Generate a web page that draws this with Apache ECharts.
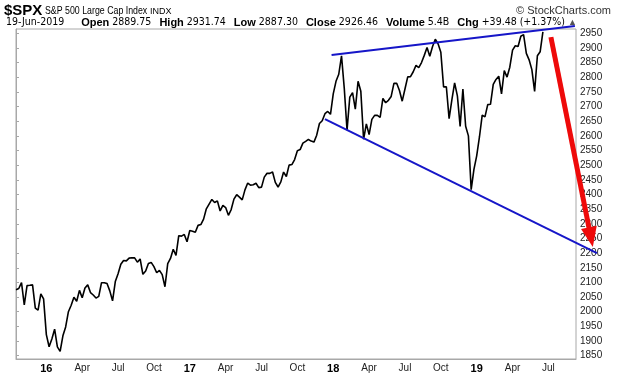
<!DOCTYPE html>
<html>
<head>
<meta charset="utf-8">
<script src="https://cdn.jsdelivr.net/npm/echarts@6/dist/echarts.min.js"></script>
<style>
  html, body { margin: 0; padding: 0; background: #fff; }
  #chart { width: 620px; height: 376px; }
</style>
</head>
<body>
<div id="chart"></div>
<script>
// weekly closes, first week ends 2015-10-23
const startWeek = '2015-10-23'
const weekCount = 204

const closes2015 = [2075.15, 2079.36, 2099.20, 2023.04, 2089.17, 2090.11, 2091.69, 2012.37, 2005.55, 2060.99, 2043.94]
const closes2016 = [1922.03, 1880.33, 1906.90, 1940.24, 1880.05, 1864.78, 1917.78, 1948.05, 1999.99, 2022.19, 2049.58, 2035.94, 2072.78,
  2047.60, 2080.73, 2091.58, 2065.30, 2057.14, 2046.61, 2052.32, 2099.06, 2099.13, 2096.07, 2071.22, 2037.41, 2102.95,
  2129.90, 2161.74, 2175.03, 2173.60, 2182.87, 2184.05, 2183.87, 2169.04, 2179.98, 2127.81, 2139.16, 2164.69, 2168.27,
  2153.74, 2132.98, 2141.16, 2126.41, 2085.18, 2164.45, 2181.90, 2213.35, 2191.95, 2259.53, 2258.07, 2263.79, 2238.83]
const closes2017 = [2276.98, 2274.64, 2271.31, 2294.69, 2297.42, 2316.10, 2351.16, 2367.34, 2383.12, 2372.60, 2378.25, 2343.98, 2362.72,
  2355.54, 2328.95, 2348.69, 2384.20, 2399.29, 2390.90, 2381.73, 2415.82, 2439.07, 2431.77, 2433.15, 2438.30, 2423.41,
  2425.18, 2459.27, 2472.54, 2472.10, 2476.83, 2441.32, 2425.55, 2443.05, 2476.55, 2461.43, 2500.23, 2502.22, 2519.36,
  2549.33, 2553.17, 2575.21, 2581.07, 2587.84, 2582.30, 2578.85, 2602.42, 2642.22, 2651.50, 2675.81, 2683.34, 2673.61]
const closes2018 = [2743.15, 2786.24, 2810.30, 2872.87, 2762.13, 2619.55, 2732.22, 2747.30, 2691.25, 2786.57, 2752.01, 2588.26, 2640.87,
  2604.47, 2656.30, 2670.14, 2669.91, 2663.42, 2727.72, 2712.97, 2721.33, 2734.62, 2779.03, 2779.42, 2754.88, 2718.37,
  2759.82, 2801.31, 2801.83, 2818.82, 2840.35, 2833.28, 2850.13, 2874.69, 2901.52, 2871.68, 2904.98, 2929.67, 2913.98,
  2885.57, 2767.13, 2767.78, 2658.69, 2723.06, 2781.01, 2736.27, 2632.56, 2760.17, 2633.08, 2599.95, 2416.62, 2485.74]
const closes2019 = [2531.94, 2596.26, 2670.71, 2664.76, 2706.53, 2707.88, 2775.60, 2792.67, 2803.69, 2743.07, 2822.48, 2800.71, 2834.40,
  2892.74, 2907.41, 2905.03, 2939.88, 2945.64, 2881.40, 2859.53, 2826.06, 2752.06, 2873.34, 2886.98, 2955.00]

const quarterLabels = [
  ['2016-01-08', '16'], ['2016-04-08', 'Apr'], ['2016-07-08', 'Jul'], ['2016-10-07', 'Oct'],
  ['2017-01-06', '17'], ['2017-04-07', 'Apr'], ['2017-07-07', 'Jul'], ['2017-10-06', 'Oct'],
  ['2018-01-05', '18'], ['2018-04-06', 'Apr'], ['2018-07-06', 'Jul'], ['2018-10-05', 'Oct'],
  ['2019-01-04', '19'], ['2019-04-05', 'Apr'], ['2019-07-05', 'Jul']
]
const yTicks = [1850, 1900, 1950, 2000, 2050, 2100, 2150, 2200, 2250, 2300, 2350, 2400, 2450, 2500,
  2550, 2600, 2650, 2700, 2750, 2800, 2850, 2900, 2950]

// drawn annotations, [week index, price]
const upperTrend = [[114.4, 2876], [202.6, 2975]]
const lowerTrend = [[112, 2657], [210.6, 2200]]
const arrowLine = [193.9, 2937, 209.1, 2221]

const closes = [].concat(closes2015, closes2016, closes2017, closes2018, closes2019)
const weeks = []
let t = Date.parse(startWeek + 'T00:00:00Z')
for (let i = 0; i < weekCount; i++) {
  weeks.push(new Date(t + i * 7 * 86400000).toISOString().slice(0, 10))
}
const labelMap = {}
quarterLabels.forEach(q => { labelMap[q[0]] = q[1] })

const FONT = '"Liberation Sans", Arial, sans-serif'
const BLUE = '#1616c8'
const RED = '#ee0a0a'

const chart = echarts.init(document.getElementById('chart'))
const option = {
  animation: false,
  backgroundColor: '#fff',
  grid: {
    left: 16,
    right: 44,
    top: 29,
    bottom: 17,
    show: true,
    borderColor: '#a8a8a8',
    borderWidth: 1
  },
  graphic: [
    { type: 'text', left: 4, top: 3, style: { text: '$SPX', font: 'bold 15px ' + FONT, fill: '#000' } },
    { type: 'text', x: 45, y: 5, scaleX: 0.8, style: { text: 'S&P 500 Large Cap Index', font: '11px ' + FONT, fill: '#000' } },
    { type: 'text', x: 150, y: 7, style: { text: 'INDX', font: '9px ' + FONT, fill: '#000' } },
    { type: 'text', right: 9, top: 5, style: { text: '© StockCharts.com', font: '11px ' + FONT, fill: '#333' } },
    {
      type: 'text',
      left: 6,
      top: 17,
      style: {
        text: '19-Jun-2019     {b|Open} 2889.75  {b|High} 2931.74  {b|Low} 2887.30  {b|Close} 2926.46  {b|Volume} 5.4B  {b|Chg} +39.48 (+1.37%) {g|▲}',
        font: '10.5px "DejaVu Sans Condensed", ' + FONT,
        fill: '#000',
        rich: {
          b: { font: 'bold 11px ' + FONT, fill: '#000', padding: [0, 0, 0, 2] },
          g: { font: '9px ' + FONT, fill: '#555' }
        }
      }
    }
  ],
  xAxis: [
    {
      type: 'category',
      data: weeks,
      boundaryGap: false,
      axisLine: { show: true, lineStyle: { color: '#a8a8a8' } },
      axisTick: { show: false },
      splitLine: { show: false },
      axisLabel: {
        interval: (idx, val) => labelMap[val] !== undefined,
        margin: 4,
        fontFamily: FONT,
        fontSize: 10,
        color: '#222',
        formatter: val => {
          const s = labelMap[val] || ''
          return /^\d+$/.test(s) ? '{y|' + s + '}' : s
        },
        rich: { y: { fontFamily: FONT, fontWeight: 'bold', fontSize: 11, color: '#000' } }
      }
    },
    { type: 'value', min: 0, max: weekCount - 1, show: false }
  ],
  yAxis: {
    type: 'value',
    position: 'right',
    min: 1838.7,
    max: 2964.7,
    axisLine: { show: true, lineStyle: { color: '#a8a8a8' } },
    axisTick: { show: true, length: 3, lineStyle: { color: '#a8a8a8' }, customValues: yTicks },
    splitLine: { show: false },
    axisLabel: {
      customValues: yTicks,
      margin: 4,
      fontFamily: FONT,
      fontSize: 10,
      color: '#222',
      formatter: v => String(v)
    }
  },
  series: [
    {
      type: 'line',
      data: closes,
      symbol: 'none',
      lineStyle: { color: '#000', width: 1.6 },
      z: 2
    },
    {
      // trend lines, may run past the price axis
      type: 'custom',
      xAxisIndex: 1,
      clip: false,
      z: 3,
      encode: { x: [0, 2], y: [1, 3] },
      data: [upperTrend[0].concat(upperTrend[1]), lowerTrend[0].concat(lowerTrend[1])],
      renderItem: function (params, api) {
        const a = api.coord([api.value(0), api.value(1)])
        const b = api.coord([api.value(2), api.value(3)])
        return {
          type: 'line',
          shape: { x1: a[0], y1: a[1], x2: b[0], y2: b[1] },
          style: { stroke: BLUE, lineWidth: 2 }
        }
      }
    },
    {
      type: 'custom',
      xAxisIndex: 1,
      clip: false,
      z: 4,
      encode: { x: [0, 2], y: [1, 3] },
      data: [arrowLine],
      renderItem: function (params, api) {
        const a = api.coord([api.value(0), api.value(1)])
        const b = api.coord([api.value(2), api.value(3)])
        const dx = b[0] - a[0]
        const dy = b[1] - a[1]
        const len = Math.sqrt(dx * dx + dy * dy)
        const ux = dx / len
        const uy = dy / len
        const headLen = 20
        const headW = 8
        const base = [b[0] - ux * headLen, b[1] - uy * headLen]
        return {
          type: 'group',
          children: [
            {
              type: 'line',
              shape: { x1: a[0], y1: a[1], x2: base[0] + ux * 2, y2: base[1] + uy * 2 },
              style: { stroke: RED, lineWidth: 5 }
            },
            {
              type: 'polygon',
              shape: { points: [b, [base[0] - uy * headW, base[1] + ux * headW], [base[0] + uy * headW, base[1] - ux * headW]] },
              style: { fill: RED }
            }
          ]
        }
      }
    }
  ]
}
chart.setOption(option)
window.addEventListener('resize', () => {
  chart.resize()
})
</script>
</body>
</html>
